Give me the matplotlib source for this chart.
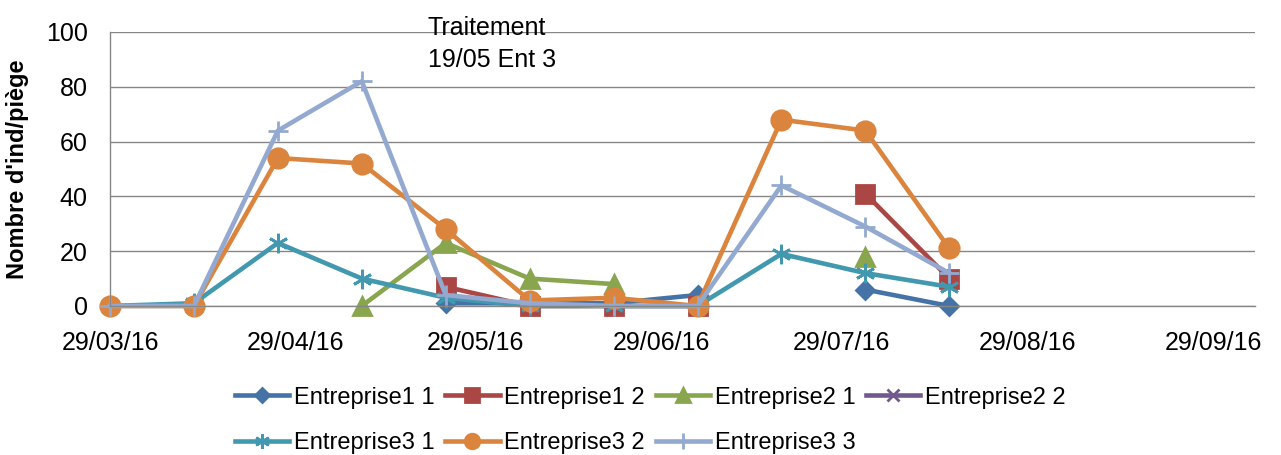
# %%
import numpy as np
import pandas as pd
import matplotlib

matplotlib.use("Agg")
import matplotlib.pyplot as plt
import matplotlib.dates as mdates

# Données : relevés toutes les deux semaines
dates = pd.date_range("2016-03-29", periods=11, freq="14D")
nan = np.nan

ent1_1 = [nan, nan, nan, nan, 1, 1, 1, 4, nan, 6, 0]
ent1_2 = [nan, nan, nan, nan, 7, 0, 0, 0, nan, 41, 10]
ent2_1 = [nan, nan, nan, 0, 23, 10, 8, nan, nan, 18, nan]
ent2_2 = [nan] * 11
ent3_1 = [0, 1, 23, 10, 3, 0, 0, 0, 19, 12, 7]
ent3_2 = [0, 0, 54, 52, 28, 2, 3, 0, 68, 64, 21]
ent3_3 = [0, 0, 64, 82, 4, 1, 0, 0, 44, 29, 12]

series_names = [
    "Entreprise1 1",
    "Entreprise1 2",
    "Entreprise2 1",
    "Entreprise2 2",
    "Entreprise3 1",
    "Entreprise3 2",
    "Entreprise3 3",
]
series_values = [ent1_1, ent1_2, ent2_1, ent2_2, ent3_1, ent3_2, ent3_3]

tick_dates = pd.to_datetime(
    ["2016-03-29", "2016-04-29", "2016-05-29", "2016-06-29",
     "2016-07-29", "2016-08-29", "2016-09-29"]
)

# Style (palette Excel 2007)
styles = [
    {"color": "#4572A7", "marker": "D", "ms": 9},
    {"color": "#AA4643", "marker": "s", "ms": 13},
    {"color": "#89A54E", "marker": "^", "ms": 13},
    {"color": "#71588F", "marker": "x", "ms": 12},
    {"color": "#4198AF", "marker": (6, 2, 0), "ms": 14},
    {"color": "#DB843D", "marker": "o", "ms": 14},
    {"color": "#93A9CF", "marker": "+", "ms": 15},
]

plt.rcParams["font.family"] = ["Liberation Sans", "DejaVu Sans"]

fig = plt.figure(figsize=(12.81, 4.55), dpi=100)
ax = fig.add_axes([0.0859, 0.3275, 0.8938, 0.6022])

handles = []
for name, values, st in zip(series_names, series_values, styles):
    (line,) = ax.plot(
        dates,
        values,
        color=st["color"],
        marker=st["marker"],
        markersize=st["ms"],
        markeredgecolor=st["color"],
        markeredgewidth=2,
        linewidth=3.3,
        label=name,
        clip_on=False,
    )
    handles.append(line)

ax.set_ylim(0, 100)
ax.set_yticks([0, 20, 40, 60, 80, 100])
ax.set_xlim(pd.Timestamp("2016-03-29"), pd.Timestamp("2016-10-06"))
ax.set_xticks(tick_dates)
ax.xaxis.set_major_formatter(mdates.DateFormatter("%d/%m/%y"))

ax.grid(axis="y", color="#868686", linewidth=1)
ax.set_axisbelow(True)
for side in ["top", "right"]:
    ax.spines[side].set_visible(False)
for side in ["left", "bottom"]:
    ax.spines[side].set_color("#868686")
    ax.spines[side].set_linewidth(1)

ax.tick_params(axis="y", length=0, pad=16, labelsize=18)
ax.tick_params(axis="x", length=0, pad=18, labelsize=18)

ax.set_ylabel("Nombre d'ind/piège", fontsize=17, fontweight="bold", labelpad=12)

ax.text(
    pd.Timestamp("2016-05-21"),
    106,
    "Traitement\n19/05 Ent 3",
    fontsize=18,
    va="top",
    ha="left",
    linespacing=1.45,
    clip_on=False,
)

# légende remplie ligne par ligne (4 colonnes)
order = [0, 4, 1, 5, 2, 6, 3]
fig.legend(
    [handles[i] for i in order],
    [series_names[i] for i in order],
    loc="upper left",
    bbox_to_anchor=(0.1835, 0.15),
    ncol=4,
    frameon=False,
    fontsize=17,
    handlelength=2.3,
    handletextpad=0.2,
    columnspacing=0.45,
    labelspacing=1.0,
    borderpad=0,
    borderaxespad=0,
    markerscale=0.75,
)

fig.savefig("out.png", dpi=100)
